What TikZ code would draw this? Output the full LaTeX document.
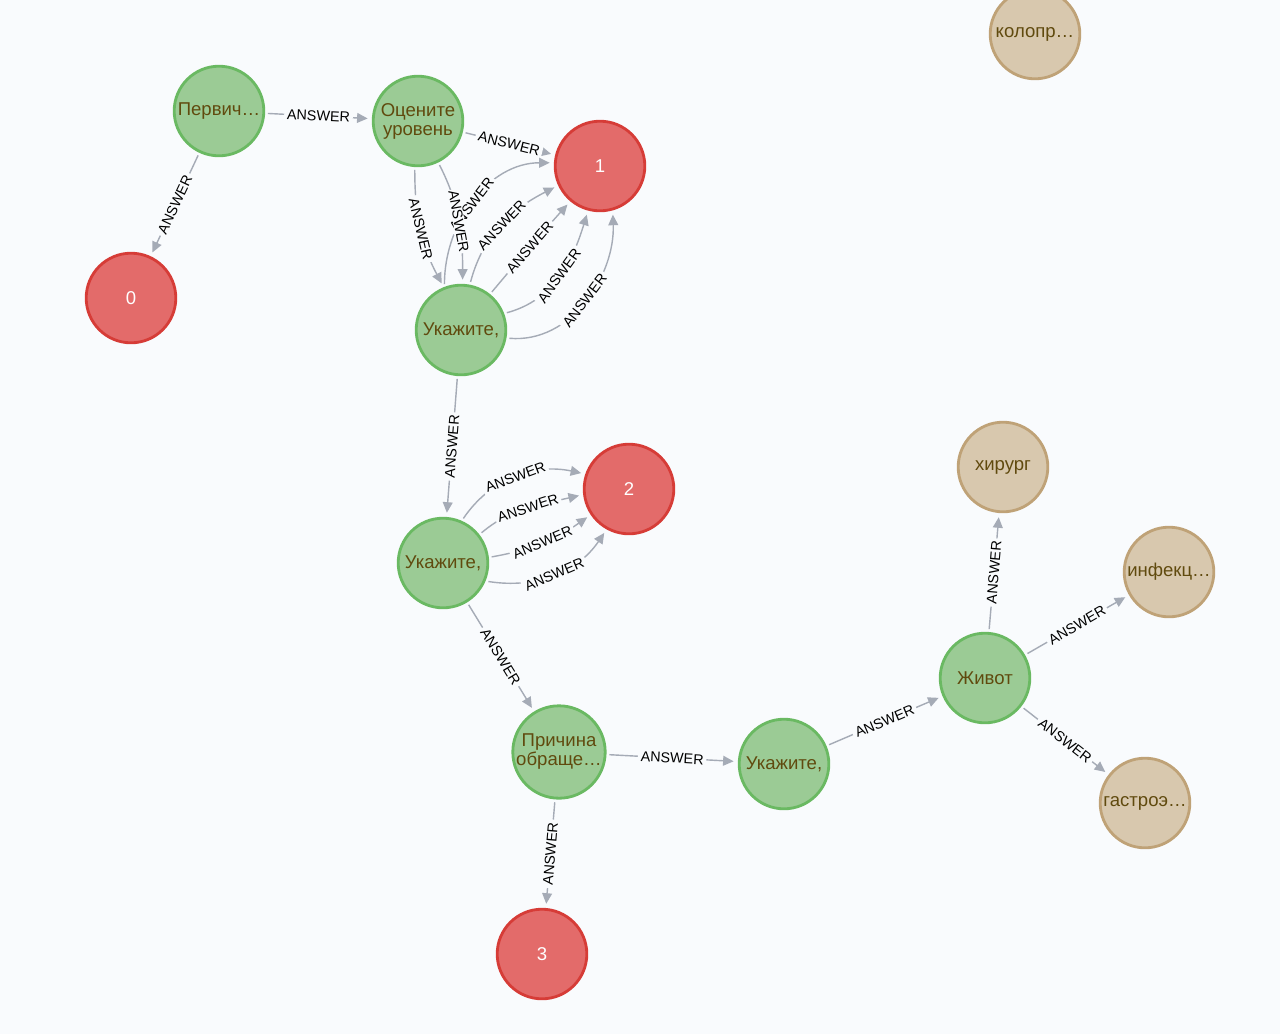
\documentclass[tikz,border=0pt]{standalone}
\usepackage{fontspec}
\setmainfont{Liberation Sans}
\usetikzlibrary{arrows.meta}

\definecolor{bgcol}{HTML}{F9FBFD}
\definecolor{edgecol}{HTML}{A5ABB6}
\definecolor{qfill}{HTML}{9BCB95}
\definecolor{qline}{HTML}{6AB962}
\definecolor{rfill}{HTML}{E36B6A}
\definecolor{rline}{HTML}{D63C37}
\definecolor{dfill}{HTML}{D8C8AE}
\definecolor{dline}{HTML}{BFA277}
\definecolor{ntext}{HTML}{604A0E}

\tikzset{
  question/.style={circle, draw=qline, fill=qfill, line width=2pt, minimum size=2.24cm, inner sep=0pt, align=center, text=ntext, font=\fontsize{13.2}{13.5}\selectfont},
  result/.style={question, draw=rline, fill=rfill, text=white},
  doctor/.style={question, draw=dline, fill=dfill},
  answer/.style={draw=edgecol, line width=1pt, -{Triangle[length=7.5pt,width=7pt]}, shorten >=3pt, shorten <=2pt},
  lbl/.style={sloped, fill=bgcol, inner sep=2pt, text=black, font=\fontsize{10.2}{10.5}\selectfont}
}

\begin{document}
\begin{tikzpicture}[x=0.025cm, y=0.025cm]
    % Canvas
    \fill[bgcol] (0,0) rectangle (1280,-1034);
    \useasboundingbox (0,0) rectangle (1280,-1034);
    \clip (0,0) rectangle (1280,-1034);

    % Question nodes
    \node[question] (perv) at (219,-111) {Первич…};
    \node[question] (ocen) at (418,-121) {Оцените\\уровень};
    \node[question] (ukaz1) at (461,-330) {Укажите,};
    \node[question] (ukaz2) at (443,-563) {Укажите,};
    \node[question] (prich) at (559,-752) {Причина\\обраще…};
    \node[question] (ukaz3) at (784,-764) {Укажите,};
    \node[question] (zhivot) at (985,-678) {Живот};

    % Result nodes
    \node[result] (zero) at (131,-298) {0};
    \node[result] (one) at (600,-166) {1};
    \node[result] (two) at (629,-489) {2};
    \node[result] (three) at (542,-954) {3};

    % Doctor nodes
    \node[doctor] (kolopr) at (1035,-34) {колопр…};
    \node[doctor] (hirurg) at (1003,-467) {хирург};
    \node[doctor] (infek) at (1169,-572) {инфекц…};
    \node[doctor] (gastro) at (1145,-803) {гастроэ…};

    % Straight relations
    \draw[answer] (perv) -- node[lbl] {ANSWER} (ocen);
    \draw[answer] (perv) -- node[lbl] {ANSWER} (zero);
    \draw[answer] (ocen) -- node[lbl] {ANSWER} (one);
    \draw[answer] (ukaz1) -- node[lbl] {ANSWER} (ukaz2);
    \draw[answer] (ukaz2) -- node[lbl] {ANSWER} (prich);
    \draw[answer] (prich) -- node[lbl] {ANSWER} (three);
    \draw[answer] (prich) -- node[lbl] {ANSWER} (ukaz3);
    \draw[answer] (ukaz3) -- node[lbl] {ANSWER} (zhivot);
    \draw[answer] (zhivot) -- node[lbl] {ANSWER} (hirurg);
    \draw[answer] (zhivot) -- node[lbl] {ANSWER} (infek);
    \draw[answer] (zhivot) -- node[lbl] {ANSWER} (gastro);

    % Curved relations: ukaz1 -> one
    \draw[answer] (ukaz1.111) to[out=90, in=180] node[lbl, pos=0.47] {ANSWER} (one.176);
    \draw[answer] (ukaz1.79) to[out=75, in=207] node[lbl] {ANSWER} (one.205);
    \draw[answer] (ukaz1.51) to[out=50, in=228] node[lbl] {ANSWER} (one.230);
    \draw[answer] (ukaz1.21) to[out=15, in=253] node[lbl] {ANSWER} (one.255);
    \draw[answer] (ukaz1.-10) to[out=-5, in=272] node[lbl] {ANSWER} (one.286);

    % Curved relations: ocen -> ukaz1
    \draw[answer] (ocen.-94) to[out=-90, in=118] node[lbl] {ANSWER} (ukaz1.112);
    \draw[answer] (ocen.-64) to[out=-63, in=90] node[lbl, inner sep=0.5pt] {ANSWER} (ukaz1.88);

    % Curved relations: ukaz2 -> two
    \draw[answer] (ukaz2.66) to[out=56, in=168] node[lbl] {ANSWER} (two.161);
    \draw[answer] (ukaz2.38) to[out=40, in=193] node[lbl] {ANSWER} (two.187);
    \draw[answer] (ukaz2.7) to[out=10, in=215] node[lbl] {ANSWER} (two.214);
    \draw[answer] (ukaz2.-23) to[out=-9, in=236] node[lbl] {ANSWER} (two.241);
\end{tikzpicture}
\end{document}
